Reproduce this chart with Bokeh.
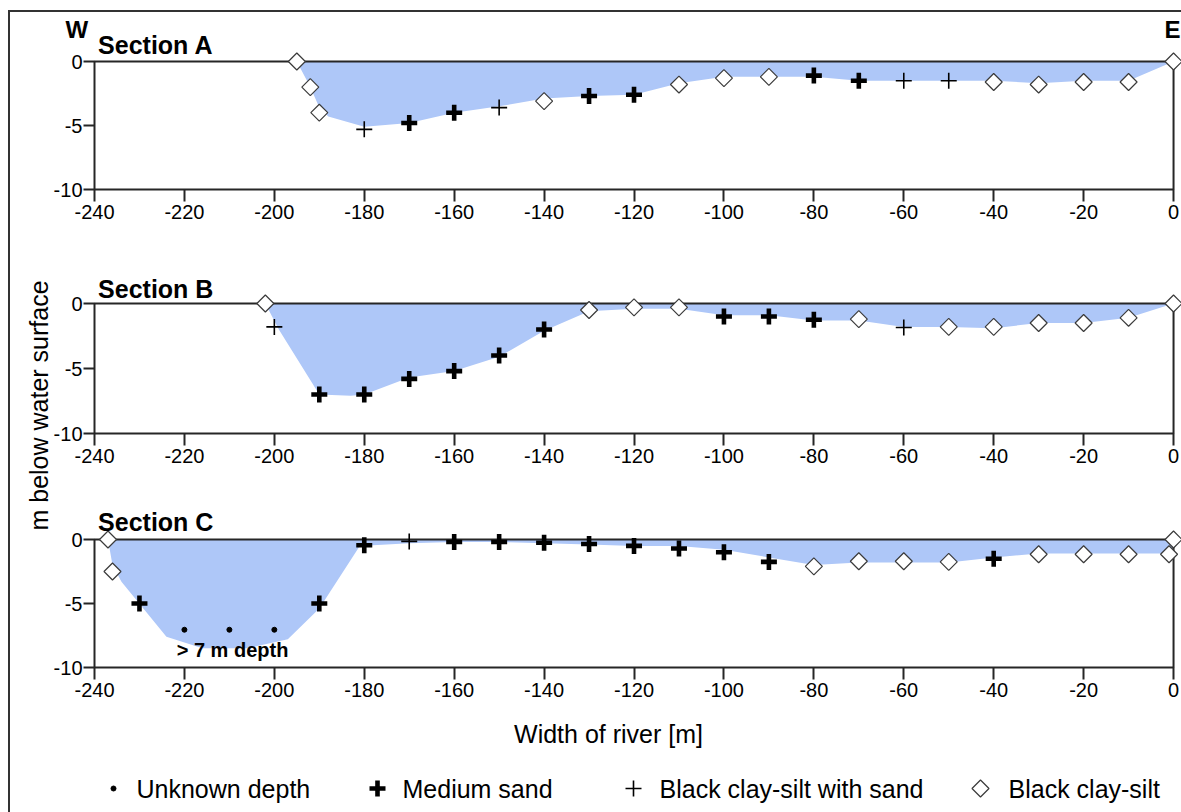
import math
from bokeh.plotting import figure
from bokeh.layouts import column, row
from bokeh.models import Range1d, FixedTicker, Label
from bokeh.embed import file_html
from bokeh.resources import INLINE

# ---------------- data ----------------
x_ticks = list(range(-240, 1, 20))
y_ticks = [-10, -5, 0]

# Section A
a_bed_x = [-195, -192, -190, -188, -180, -170, -160, -150, -140, -130, -120, -110,
           -100, -90, -80, -70, -60, -50, -40, -30, -20, -10, 0]
a_bed_y = [0, -2.0, -3.6, -4.3, -5.1, -4.8, -4.0, -3.5, -2.9, -2.7, -2.6, -1.7,
           -1.2, -1.2, -1.2, -1.5, -1.5, -1.5, -1.5, -1.7, -1.5, -1.5, 0]
a_sand_x = [-170, -160, -130, -120, -80, -70]
a_sand_y = [-4.8, -4.0, -2.7, -2.6, -1.1, -1.5]
a_mix_x = [-180, -150, -60, -50]
a_mix_y = [-5.3, -3.6, -1.5, -1.5]
a_clay_x = [-195, -192, -190, -140, -110, -100, -90, -40, -30, -20, -10, 0]
a_clay_y = [0, -2.0, -4.0, -3.1, -1.8, -1.3, -1.2, -1.6, -1.8, -1.6, -1.6, 0]
a_unk_x, a_unk_y = [], []

# Section B
b_bed_x = [-202, -199, -190, -183, -180, -170, -160, -150, -140, -130, -120, -110,
           -100, -90, -80, -70, -60, -50, -40, -30, -20, -10, 0]
b_bed_y = [0, -2.0, -7.0, -7.1, -7.0, -5.7, -5.2, -4.1, -2.1, -0.6, -0.4, -0.4,
           -0.9, -0.9, -1.3, -1.3, -1.8, -1.8, -1.9, -1.5, -1.5, -1.1, 0]
b_sand_x = [-190, -180, -170, -160, -150, -140, -100, -90, -80]
b_sand_y = [-7.0, -7.0, -5.8, -5.2, -4.0, -2.0, -1.0, -1.0, -1.25]
b_mix_x = [-200, -60]
b_mix_y = [-1.8, -1.85]
b_clay_x = [-202, -130, -120, -110, -70, -50, -40, -30, -20, -10, 0]
b_clay_y = [0, -0.5, -0.3, -0.3, -1.2, -1.8, -1.8, -1.5, -1.5, -1.1, 0]
b_unk_x, b_unk_y = [], []

# Section C
c_bed_x = [-237, -236, -234, -224, -216, -206, -197, -190, -181, -170, -160, -150,
           -140, -130, -120, -110, -100, -90, -80, -70, -60, -50, -40, -30, -20,
           -10, 0, 0]
c_bed_y = [0, -2.0, -3.3, -7.6, -8.5, -8.5, -7.8, -5.4, -0.5, -0.3, -0.2, -0.2,
           -0.3, -0.4, -0.5, -0.5, -0.8, -1.4, -2.0, -1.8, -1.8, -1.8, -1.4, -1.1, -1.1,
           -1.1, -1.1, 0]
c_sand_x = [-230, -190, -180, -160, -150, -140, -130, -120, -110, -100, -90, -40]
c_sand_y = [-5.0, -5.0, -0.45, -0.2, -0.2, -0.25, -0.35, -0.5, -0.7, -1.0, -1.75, -1.5]
c_mix_x = [-170]
c_mix_y = [-0.15]
c_clay_x = [-237, -236, -80, -70, -60, -50, -30, -20, -10, -1, 0]
c_clay_y = [0, -2.5, -2.1, -1.7, -1.7, -1.75, -1.15, -1.15, -1.15, -1.15, 0]
c_unk_x = [-220, -210, -200]
c_unk_y = [-7.05, -7.05, -7.05]

section_titles = ["Section A", "Section B", "Section C"]
legend_labels = ["Unknown depth", "Medium sand", "Black clay-silt with sand", "Black clay-silt"]
x_title = "Width of river [m]"
y_title = "m below water surface"
note_text = "> 7 m depth"

# ---------------- style ----------------
FONT = "Liberation Sans"
BLUE = "#aec7f8"
INK = "#262626"
X_MIN, X_MAX = x_ticks[0], x_ticks[-1]
Y_MIN, Y_MAX = y_ticks[0], y_ticks[-1]
PX_PER_M = 4.496
LEFT_W = 43
PANEL_W = 1128
AXIS_GAP = 41                      # px between panel left edge and the y axis
X_START = X_MIN - AXIS_GAP / PX_PER_M
X_END = X_START + PANEL_W / PX_PER_M


def style_markers(p, sand, mix, clay, unk):
    p.scatter(unk[0], unk[1], marker="circle", size=5, fill_color="black", line_color="black")
    p.scatter(clay[0], clay[1], marker="square", angle=math.pi / 4, size=12,
              fill_color="white", line_color="#3a3a3a", line_width=1.2)
    p.scatter(mix[0], mix[1], marker="cross", size=16, line_color="black", line_width=1.6)
    p.scatter(sand[0], sand[1], marker="cross", size=16, line_color="black", line_width=4.6)


def panel(height, bottom, px_per_unit, bed, sand, mix, clay, unk, title, title_px):
    ymin = Y_MIN - bottom / px_per_unit
    ymax = ymin + height / px_per_unit
    p = figure(width=PANEL_W, height=height, x_range=Range1d(X_START, X_END),
               y_range=Range1d(ymin, ymax), output_backend="svg", toolbar_location=None,
               min_border=0)
    p.outline_line_color = None
    p.grid.visible = False
    p.yaxis.fixed_location = X_MIN
    p.xaxis.fixed_location = Y_MIN
    for ax, ticks in ((p.xaxis, x_ticks), (p.yaxis, y_ticks)):
        ax.ticker = FixedTicker(ticks=ticks)
        ax.major_label_overrides = {t: str(t) for t in ticks}
        ax.axis_line_color = None
        ax.major_tick_in = 0
        ax.major_tick_out = 12
        ax.major_tick_line_width = 2
        ax.major_tick_line_color = INK
        ax.minor_tick_line_color = None
        ax.major_label_text_font = FONT
        ax.major_label_text_font_size = "20px"
        ax.major_label_text_color = "black"
        ax.major_label_standoff = 3
    p.yaxis.major_tick_out = 11
    p.yaxis.major_label_standoff = 1
    p.patch(bed[0], bed[1], fill_color=BLUE, line_color=None)
    p.quad(left=[X_MIN], right=[X_MAX], bottom=[Y_MIN], top=[Y_MAX],
           fill_color=None, line_color=INK, line_width=2)
    style_markers(p, sand, mix, clay, unk)
    p.add_layout(Label(x=X_MIN + 0.8, y=Y_MAX + title_px / px_per_unit, text=title,
                       text_font=FONT, text_font_style="bold", text_font_size="25px",
                       text_baseline="middle", text_color="black"))
    return p


pa = panel(235, 58, 12.8, (a_bed_x, a_bed_y), (a_sand_x, a_sand_y), (a_mix_x, a_mix_y),
           (a_clay_x, a_clay_y), (a_unk_x, a_unk_y), section_titles[0], 17)
pb = panel(236, 50, 13.0, (b_bed_x, b_bed_y), (b_sand_x, b_sand_y), (b_mix_x, b_mix_y),
           (b_clay_x, b_clay_y), (b_unk_x, b_unk_y), section_titles[1], 15)
pc = panel(229, 45, 12.8, (c_bed_x, c_bed_y), (c_sand_x, c_sand_y), (c_mix_x, c_mix_y),
           (c_clay_x, c_clay_y), (c_unk_x, c_unk_y), section_titles[2], 17.5)

# W / E orientation labels
pa.add_layout(Label(x=X_MIN - 29 / PX_PER_M, y=Y_MAX + 32 / 12.8, text="W", text_font=FONT,
                    text_font_style="bold", text_font_size="24px", text_baseline="middle",
                    text_color="black"))
pa.add_layout(Label(x=X_MAX - 9 / PX_PER_M, y=Y_MAX + 32 / 12.8, text="E", text_font=FONT,
                    text_font_style="bold", text_font_size="24px", text_baseline="middle",
                    text_color="black"))
# note in section C
pc.add_layout(Label(x=-209.3, y=-8.67, text=note_text, text_font=FONT,
                    text_font_style="bold", text_font_size="20px", text_align="center",
                    text_baseline="middle", text_color="black"))

# left strip with the shared y title
LEFT_H = 235 + 236 + 229
pl = figure(width=LEFT_W, height=LEFT_H, x_range=Range1d(0, LEFT_W), y_range=Range1d(LEFT_H, 0),
            x_axis_location=None, y_axis_location=None, min_border=0,
            output_backend="svg", toolbar_location=None)
pl.outline_line_color = None
pl.grid.visible = False
pl.add_layout(Label(x=28.5, y=393, text=y_title, angle=math.pi / 2, text_font=FONT,
                    text_font_size="25px", text_align="center", text_baseline="middle",
                    text_color="black"))

# bottom strip: x title + legend
F_W, F_H = LEFT_W + PANEL_W, 100
pf = figure(width=F_W, height=F_H, x_range=Range1d(0, F_W), y_range=Range1d(F_H, 0),
            x_axis_location=None, y_axis_location=None, min_border=0,
            output_backend="svg", toolbar_location=None)
pf.outline_line_color = None
pf.grid.visible = False
pf.add_layout(Label(x=598, y=21, text=x_title, text_font=FONT, text_font_size="25px",
                    text_align="center", text_baseline="middle", text_color="black"))
leg_key_x = [103, 367, 623, 970]
leg_text_x = [126, 392, 649, 998]
leg_y = 76
style_markers(pf, ([leg_key_x[1]], [leg_y]), ([leg_key_x[2]], [leg_y]),
              ([leg_key_x[3]], [leg_y]), ([leg_key_x[0]], [leg_y]))
for tx, lab in zip(leg_text_x, legend_labels):
    pf.add_layout(Label(x=tx, y=leg_y, text=lab, text_font=FONT, text_font_size="25px",
                        text_baseline="middle", text_color="black"))

layout = column(row(pl, column(pa, pb, pc)), pf, margin=(10, 0, 0, 8),
                styles={"border-top": "2px solid #333333", "border-left": "2px solid #333333"})

open("out.html", "w").write(file_html(layout, INLINE))
